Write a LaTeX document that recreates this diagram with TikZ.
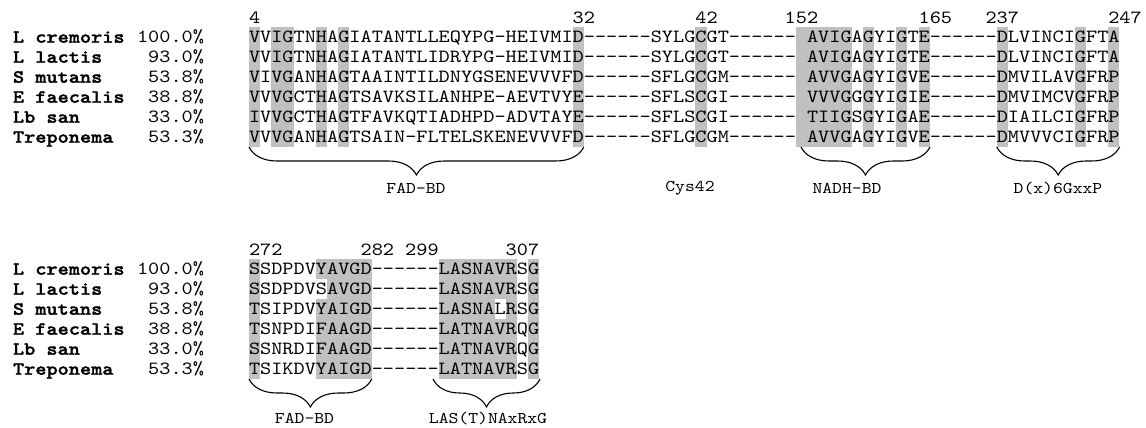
\documentclass[tikz,border=0pt]{standalone}
\usepackage{fontspec}
\setmonofont{lmmono10-regular.otf}[FakeStretch=1.143,BoldFont=lmmonolt10-bold.otf,BoldFeatures={FakeBold=1.6}]
\usepackage{tikz}
\usetikzlibrary{positioning,decorations.pathreplacing}
\definecolor{hlgray}{RGB}{192,192,192}

\begin{document}
\begin{tikzpicture}[x=1pt, y=-1pt,
    seq/.style={inner sep=0pt, outer sep=0pt, anchor=base west, font=\fontsize{18.6}{20}\selectfont\ttfamily},
    strain/.style={seq, font=\fontsize{18.6}{20}\selectfont\ttfamily\bfseries},
    ident/.style={seq, anchor=base east},
    motif/.style={inner sep=0pt, font=\fontsize{16.4}{18}\selectfont\ttfamily},
    brace/.style={decorate, decoration={brace, mirror, amplitude=28pt}, line width=1.1pt}
  ]
  \useasboundingbox (0,0) rectangle (1146,428);

  % conserved columns, first block
  \foreach \fc/\lc in {1/1,3/4,7/7,9/9,30/30,41/41,50/54,56/56,59/59,61/61,68/68,75/75,78/78}
    \fill[hlgray] ({249+11.16*(\fc-1)},27) rectangle ({249+11.16*\lc},147);
  % conserved columns, second block
  \foreach \fc/\lc in {1/1,8/11,18/22,24/24,26/26}
    \fill[hlgray] ({249+11.16*(\fc-1)},259) rectangle ({249+11.16*\lc},379);
  \fill[hlgray] ({249+11.16*6},259) rectangle ({249+11.16*7},279);
  \fill[hlgray] ({249+11.16*6},299) rectangle ({249+11.16*7},379);
  \fill[hlgray] ({249+11.16*22},259) rectangle ({249+11.16*23},299);
  \fill[hlgray] ({249+11.16*22},319) rectangle ({249+11.16*23},379);

  % residue numbers
  \foreach \num/\col in {4/1,32/30,42/41,152/49,165/61,237/67,247/78}
    \node[seq] (posA\num) at ({249+11.16*(\col-1)},23.5) {\num};
  \foreach \num/\col in {272/1,282/11,299/15,307/24}
    \node[seq] (posB\num) at ({249+11.16*(\col-1)},255) {\num};

  % first block
  \foreach \nm/\pc/\sq [count=\i] in {
      L cremoris/100.0/VVIGTNHAGIATANTLLEQYPG-HEIVMID------SYLGCGT------ AVIGAGYIGTE------DLVINCIGFTA,
      L lactis/93.0/VVIGTNHAGIATANTLIDRYPG-HEIVMID------SYLGCGT------ AVIGAGYIGTE------DLVINCIGFTA,
      S mutans/53.8/VIVGANHAGTAAINTILDNYGSENEVVVFD------SFLGCGM------ AVVGAGYIGVE------DMVILAVGFRP,
      E faecalis/38.8/VVVGCTHAGTSAVKSILANHPE-AEVTVYE------SFLSCGI------ VVVGGGYIGIE------DMVIMCVGFRP,
      Lb san/33.0/IVVGCTHAGTFAVKQTIADHPD-ADVTAYE------SFLSCGI------ TIIGSGYIGAE------DIAILCIGFRP,
      Treponema/53.3/VVVGANHAGTSAIN-FLTELSKENEVVVFD------SFLGCGM------ AVVGAGYIGVE------DMVVVCIGFRP}{
    \node[strain] (strainA\i) at (13,{42.7+20*(\i-1)}) {\nm};
    \node[ident] (identA\i) at (204,{42.7+20*(\i-1)}) {\pc\%};
    \node[seq] (seqA\i) at (249,{42.7+20*(\i-1)}) {\sq};
  }

  % second block
  \foreach \nm/\pc/\sq [count=\i] in {
      L cremoris/100.0/SSDPDVYAVGD------LASNAVRSG,
      L lactis/93.0/SSDPDVSAVGD------LASNAVRSG,
      S mutans/53.8/TSIPDVYAIGD------LASNALRSG,
      E faecalis/38.8/TSNPDIFAAGD------LATNAVRQG,
      Lb san/33.0/SSNRDIFAAGD------LATNAVRQG,
      Treponema/53.3/TSIKDVYAIGD------LATNAVRSG}{
    \node[strain] (strainB\i) at (13,{274.7+20*(\i-1)}) {\nm};
    \node[ident] (identB\i) at (204,{274.7+20*(\i-1)}) {\pc\%};
    \node[seq] (seqB\i) at (249,{274.7+20*(\i-1)}) {\sq};
  }

  % motif braces and names
  \coordinate (fadAl) at (249,147);   \coordinate (fadAr) at (583.8,147);
  \coordinate (nadhl) at (801,147);   \coordinate (nadhr) at (930,147);
  \coordinate (dxgl) at (996.8,147);  \coordinate (dxgr) at (1119.6,147);
  \coordinate (fadBl) at (249,379);   \coordinate (fadBr) at (371.8,379);
  \coordinate (lasl) at (433,379);    \coordinate (lasr) at (540,379);
  \draw[brace] (fadAl) -- (fadAr);
  \draw[brace] (nadhl) -- (nadhr);
  \draw[brace] (dxgl) -- (dxgr);
  \draw[brace] (fadBl) -- (fadBr);
  \draw[brace] (lasl) -- (lasr);

  \node[motif] (fadA) at (416,188) {FAD-BD};
  \node[motif] (cys) at (690,188) {Cys42};
  \node[motif] (nadh) at (847,188) {NADH-BD};
  \node[motif] (dxg) at (1058,188) {D(x)6GxxP};
  \node[motif] (fadB) at (304.5,418) {FAD-BD};
  \node[motif] (las) at (488,418) {LAS(T)NAxRxG};
\end{tikzpicture}
\end{document}
